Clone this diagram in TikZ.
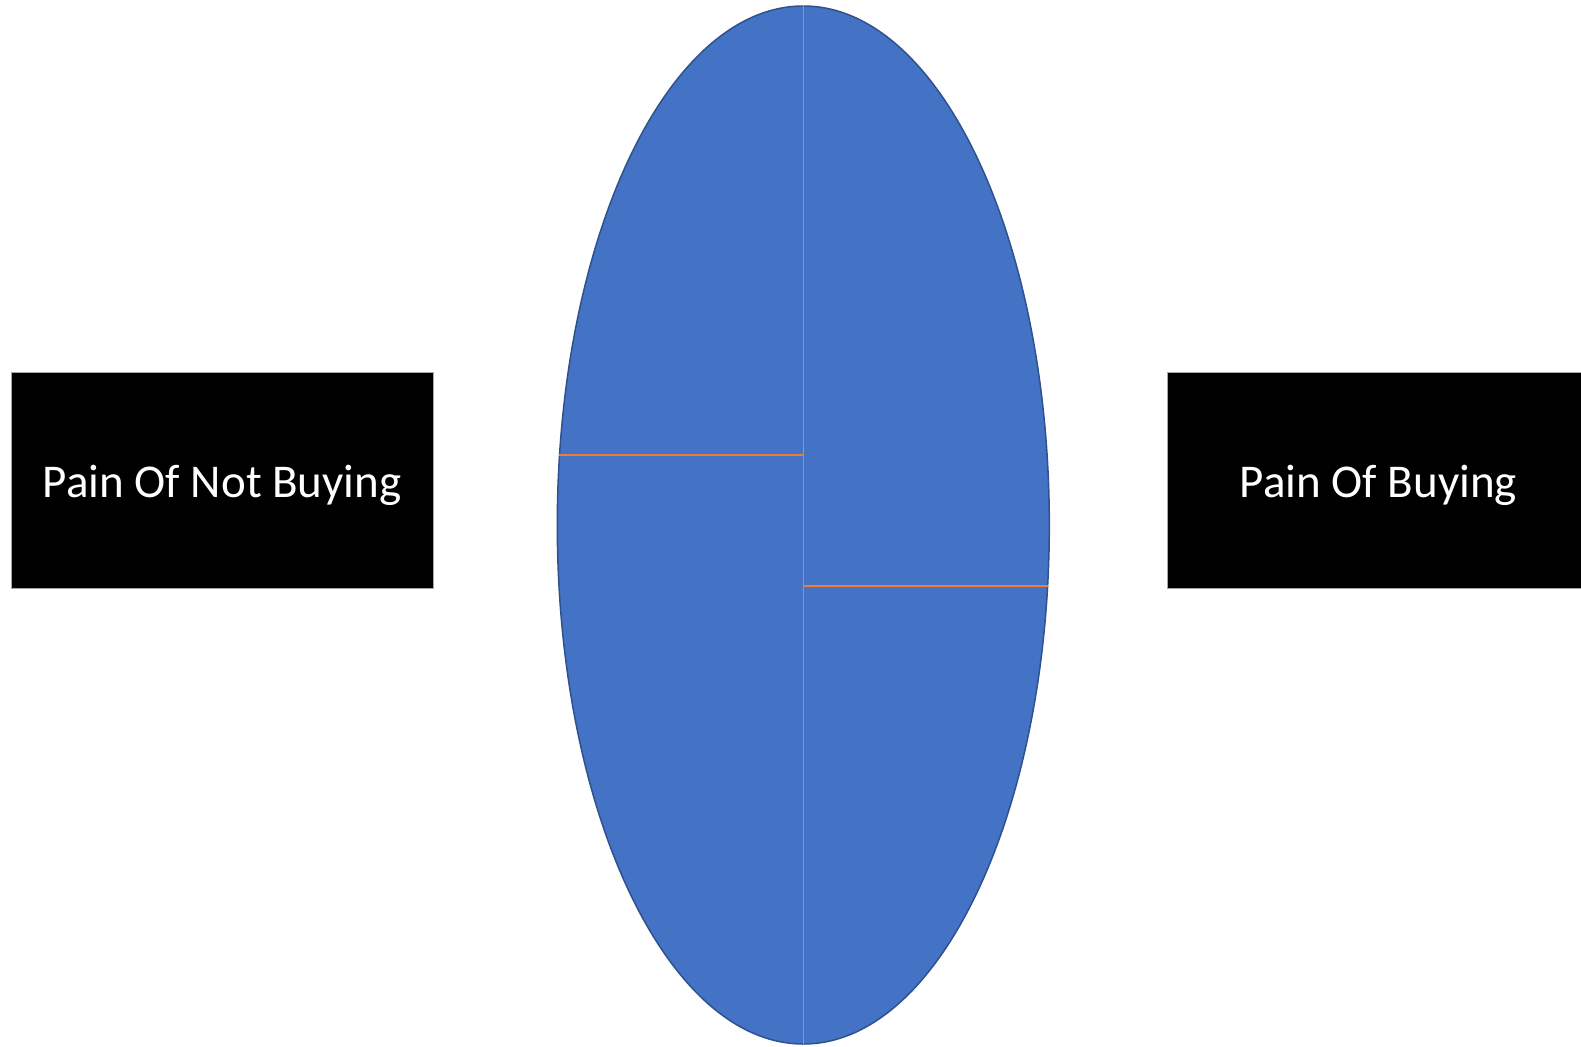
\documentclass[tikz,border=0pt]{standalone}
\usepackage{fontspec}
\setmainfont{Carlito}
\usepackage{tikz}
\usetikzlibrary{shapes.geometric}
\definecolor{lensblue}{HTML}{4472C4}
\definecolor{lensedge}{HTML}{2F528F}
\definecolor{splitorange}{HTML}{ED7D31}

\begin{document}
\begin{tikzpicture}[x=1pt,y=-1pt,
painbox/.style={draw=gray!70,line width=1pt,fill=black,text=white,minimum width=422pt,minimum height=216pt,font=\fontsize{47}{56}\selectfont,text height=44pt,text depth=10pt,inner sep=0pt},
lens/.style={ellipse,draw=lensedge,line width=1.5pt,fill=lensblue,minimum width=492pt,minimum height=1038pt,inner sep=0pt},
split/.style={draw=splitorange,line width=1.2pt}]
\useasboundingbox (0,0) rectangle (1581,1046);
\clip (0,0) rectangle (1581,1046);
\node[painbox] at (222.3,480.3)(notbuying){Pain Of Not Buying};
\node[painbox] at (1378.5,480.3)(buying){Pain Of Buying};
\node[lens] at (803.3,525)(scale){};
\draw[split](scale.north)--(scale.south);
\draw[split](scale.164.5)--(scale.164.5 -| scale.center);
\draw[split](scale.-14.4 -| scale.center)--(scale.-14.4);
\end{tikzpicture}
\end{document}
